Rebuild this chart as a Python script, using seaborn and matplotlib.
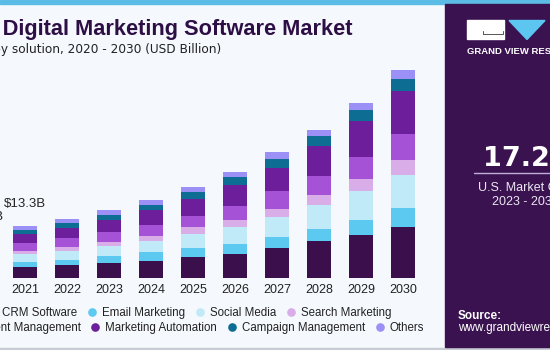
import matplotlib.pyplot as plt
import numpy as np
import pandas as pd
import seaborn as sns
from matplotlib.colors import LinearSegmentedColormap
from matplotlib.lines import Line2D
from matplotlib.patches import Polygon, Rectangle

# values in USD billion
YEARS = ["2020", "2021", "2022", "2023", "2024", "2025", "2026", "2027", "2028", "2029", "2030"]
CRM = [2.05, 2.72, 3.23, 3.81, 4.40, 5.34, 6.03, 7.63, 9.33, 11.01, 12.97]
EMAIL = [1.00, 1.35, 1.45, 1.86, 2.11, 2.21, 2.62, 2.70, 3.23, 3.81, 4.83]
SOCIAL = [1.50, 1.96, 2.21, 2.37, 2.98, 3.64, 4.32, 5.09, 6.10, 7.37, 8.47]
SEARCH = [0.65, 0.84, 1.02, 1.20, 1.27, 1.70, 1.78, 2.11, 2.54, 2.98, 3.64]
CONTENT = [1.55, 2.03, 2.21, 2.37, 2.62, 2.98, 3.64, 4.58, 4.83, 5.59, 6.79]
AUTOMATION = [1.70, 2.29, 2.54, 3.05, 3.81, 4.25, 5.16, 5.93, 7.63, 9.08, 10.76]
CAMPAIGN = [0.80, 1.09, 1.35, 1.45, 1.45, 1.78, 2.03, 2.21, 2.37, 2.80, 3.23]
OTHERS = [0.75, 1.02, 1.02, 1.27, 1.27, 1.27, 1.45, 1.70, 1.70, 1.86, 2.29]
VALUE_LABELS = {"2020": "$10.0B", "2021": "$13.3B"}

SEGMENTS = [
    "CRM Software", "Email Marketing", "Social Media", "Search Marketing",
    "Content Management", "Marketing Automation", "Campaign Management", "Others",
]
PALETTE = {
    "CRM Software": "#3a0f4b",
    "Email Marketing": "#5cc9f1",
    "Social Media": "#c0eaf8",
    "Search Marketing": "#d8ade8",
    "Content Management": "#a552d6",
    "Marketing Automation": "#6d1f9b",
    "Campaign Management": "#0e6d92",
    "Others": "#9b90f5",
}

W, H = 550, 350
BG = "#f5f8fc"
PANEL = "#3a1250"


def fx(px):
    return px / W


def fy(py):
    return 1 - py / H


sns.set_theme(style="white")
plt.rcParams["font.family"] = ["Liberation Sans", "DejaVu Sans"]

df = pd.DataFrame({
    "year": YEARS,
    "CRM Software": CRM,
    "Email Marketing": EMAIL,
    "Social Media": SOCIAL,
    "Search Marketing": SEARCH,
    "Content Management": CONTENT,
    "Marketing Automation": AUTOMATION,
    "Campaign Management": CAMPAIGN,
    "Others": OTHERS,
})
cum = df[SEGMENTS].cumsum(axis=1)

fig = plt.figure(figsize=(W / 100, H / 100), dpi=100, facecolor=BG)
ax = fig.add_axes([fx(-38), 72 / H, 462 / W, 236 / H])
ax.set_facecolor("none")

# stacked bars: draw cumulative totals from the top segment down
for seg in reversed(SEGMENTS):
    sns.barplot(x=df["year"], y=cum[seg], color=PALETTE[seg], saturation=1,
                width=0.57, linewidth=0, ax=ax)

totals = cum[SEGMENTS[-1]]
for i, year in enumerate(YEARS):
    if year in VALUE_LABELS:
        ax.annotate(VALUE_LABELS[year], (i, totals[i]), xytext=(0, 11),
                    textcoords="offset points", ha="center", va="bottom",
                    fontsize=9.5, color="#222222")

ax.set(xlim=(-0.5, 10.5), ylim=(0, 60), xlabel="", ylabel="", yticks=[])
ax.tick_params(axis="x", length=0, pad=4, labelsize=9, colors="#222222")
sns.despine(ax=ax, left=True, bottom=True)

# legend, two flowing rows cut off at the left edge
handles = [Line2D([], [], marker="o", linestyle="", markersize=5.2,
                  color=PALETTE[s], label=s) for s in SEGMENTS]
for row, (xr, yc) in enumerate([(397, 313), (430, 328)]):
    fig.legend(handles=handles[row * 4:row * 4 + 4], loc="center right",
               bbox_to_anchor=(fx(xr), fy(yc)), ncol=4, frameon=False,
               fontsize=8.3, borderpad=0, handlelength=1.0, handletextpad=0.35,
               columnspacing=0.8, labelcolor="#222222")

# title block
fig.text(fx(353), fy(35), "U.S. Digital Marketing Software Market", ha="right",
         va="baseline", fontsize=15.7, fontweight="bold", color="#2d0f45")
fig.text(fx(221), fy(52.5), "size, by solution, 2020 - 2030 (USD Billion)",
         ha="right", va="baseline", fontsize=8.75, color="#222222",
         family="DejaVu Sans")

# frame strips
fig.patches.append(Rectangle((0, fy(4)), 1, 4 / H, transform=fig.transFigure,
                             color="#5bbde6", zorder=0))
fig.patches.append(Rectangle((0, 0), 1, 2.5 / H, transform=fig.transFigure,
                             color="#c6cbd4", zorder=0))

# right-hand panel
fig.patches.append(Rectangle((fx(445), fy(347)), 105 / W, 343 / H,
                             transform=fig.transFigure, color=PANEL, zorder=0))
gax = fig.add_axes([fx(445), fy(347), 105 / W, 67 / H])
grad = LinearSegmentedColormap.from_list("g", [PANEL, "#4a4f92", "#4f86c6", "#58b8e8"])
gax.imshow(np.linspace(0, 1, 100).reshape(-1, 1), aspect="auto", cmap=grad,
           extent=(0, 1, 0, 1), origin="upper")
for k in np.linspace(0.05, 0.95, 8):
    gax.plot([k, 0.5 + (k - 0.5) * 2.2], [0.8, 0], color="white", alpha=0.12, lw=0.6)
for k in np.linspace(0.1, 0.75, 6):
    xs = np.linspace(0, 1, 30)
    gax.plot(xs, k + 0.06 * np.sin(xs * 4 + k * 5), color="white", alpha=0.12, lw=0.6)
gax.set(xlim=(0, 1), ylim=(0, 1))
gax.axis("off")

fig.patches.append(Rectangle((fx(467), fy(39)), 37 / W, 19 / H,
                             transform=fig.transFigure, color="white", zorder=2))
fig.lines.append(Line2D([fx(483), fx(503), fx(503)], [fy(34), fy(34), fy(31)],
                        transform=fig.transFigure, color="#555555", lw=0.7, zorder=3))
fig.lines.append(Line2D([fx(483), fx(483)], [fy(31), fy(34)],
                        transform=fig.transFigure, color="#555555", lw=0.7, zorder=3))
fig.patches.append(Polygon([(fx(509), fy(20.5)), (fx(545), fy(20.5)), (fx(527), fy(39.5))],
                           closed=True, transform=fig.transFigure, color="#5cc6f0", zorder=2))
fig.text(fx(467), fy(54), "GRAND VIEW RESEARCH", fontsize=6.8, fontweight="bold",
         color="white", va="baseline")

fig.text(fx(483), fy(166), "17.2%", fontsize=19.5, fontweight="bold",
         color="white", va="baseline", family="DejaVu Sans")
fig.lines.append(Line2D([fx(474), 1], [fy(173), fy(173)], transform=fig.transFigure,
                        color="#c0aedb", lw=1))
fig.text(fx(478), fy(191), "U.S. Market CAGR,", fontsize=9, color="#ece6f2", va="baseline")
fig.text(fx(492), fy(205), "2023 - 2030", fontsize=9, color="#ece6f2", va="baseline")

fig.text(fx(458), fy(319), "Source:", fontsize=8.5, fontweight="bold",
         color="white", va="baseline")
fig.text(fx(458), fy(331), "www.grandviewresearch.com", fontsize=8.5,
         color="white", va="baseline")

fig.savefig("out.png", dpi=100, facecolor=fig.get_facecolor())
